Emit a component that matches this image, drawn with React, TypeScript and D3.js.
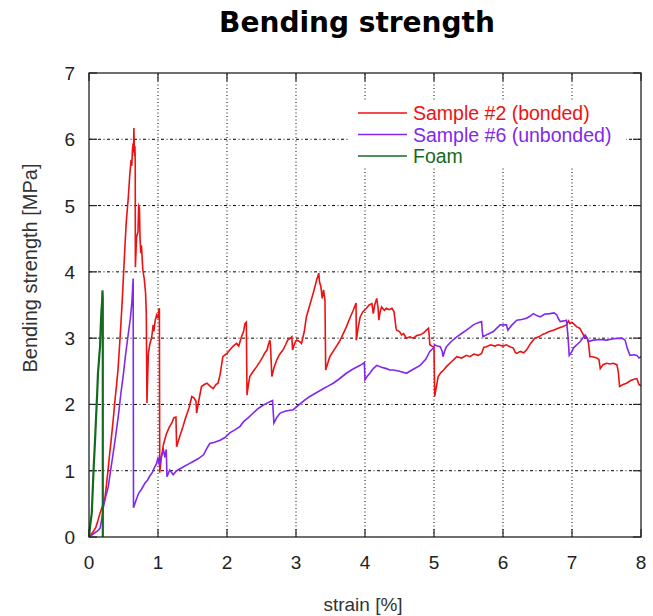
import React from 'react';
import * as d3 from 'd3';

// strain [%], bending strength [MPa]
const sample2: [number, number][] = [
  [0, 0], [0.03, 0.04], [0.06, 0.08], [0.1, 0.15], [0.13, 0.25], [0.16, 0.36], [0.19, 0.45], [0.21, 0.5],
  [0.23, 0.58], [0.26, 0.85], [0.28, 1.05], [0.3, 1.26], [0.32, 1.45], [0.35, 1.76], [0.38, 2.1], [0.4, 2.3],
  [0.42, 2.52], [0.45, 3.0], [0.48, 3.53], [0.5, 3.95], [0.52, 4.37], [0.54, 4.75], [0.57, 5.13], [0.59, 5.45],
  [0.61, 5.69], [0.62, 5.6], [0.63, 5.85], [0.64, 5.94], [0.645, 5.8], [0.65, 6.17], [0.66, 5.75], [0.665, 5.9],
  [0.67, 5.69], [0.672, 4.07], [0.69, 4.53], [0.71, 4.6], [0.72, 5.0], [0.73, 4.98], [0.74, 4.5], [0.75, 4.28],
  [0.76, 4.4], [0.78, 4.03], [0.8, 3.9], [0.82, 3.68], [0.83, 3.4], [0.84, 2.02], [0.85, 2.4], [0.86, 2.77],
  [0.88, 2.9], [0.91, 3.02], [0.93, 3.2], [0.94, 3.1], [0.96, 3.27], [0.98, 3.35], [1.0, 3.3], [1.01, 3.42],
  [1.02, 3.45], [1.025, 0.97], [1.05, 1.21], [1.08, 1.4], [1.12, 1.55], [1.16, 1.65], [1.2, 1.72], [1.23, 1.8],
  [1.26, 1.81], [1.27, 1.36], [1.31, 1.5], [1.36, 1.66], [1.4, 1.8], [1.45, 1.95], [1.49, 2.12], [1.52, 2.1],
  [1.55, 2.05], [1.56, 1.87], [1.59, 2.05], [1.63, 2.27], [1.67, 2.3], [1.71, 2.32], [1.75, 2.28], [1.8, 2.24],
  [1.84, 2.3], [1.87, 2.32], [1.9, 2.45], [1.94, 2.72], [2.0, 2.77], [2.04, 2.82], [2.09, 2.88], [2.14, 2.92],
  [2.17, 2.88], [2.21, 3.02], [2.24, 3.1], [2.26, 3.22], [2.28, 3.24], [2.29, 2.14], [2.31, 2.3], [2.33, 2.42],
  [2.38, 2.5], [2.43, 2.57], [2.48, 2.65], [2.52, 2.72], [2.55, 2.78], [2.58, 2.82], [2.6, 2.9], [2.62, 2.97],
  [2.63, 2.9], [2.65, 2.42], [2.68, 2.55], [2.72, 2.67], [2.76, 2.75], [2.81, 2.82], [2.85, 2.9], [2.88, 2.97],
  [2.92, 3.0], [2.94, 3.02], [2.95, 2.82], [2.98, 2.92], [3.01, 2.97], [3.05, 2.95], [3.08, 2.92], [3.12, 3.1],
  [3.15, 3.32], [3.2, 3.5], [3.25, 3.68], [3.28, 3.8], [3.3, 3.88], [3.33, 3.98], [3.34, 3.85], [3.36, 3.78],
  [3.38, 3.6], [3.4, 3.73], [3.42, 3.57], [3.43, 2.52], [3.46, 2.62], [3.49, 2.72], [3.55, 2.82], [3.6, 2.9],
  [3.64, 2.97], [3.69, 3.08], [3.73, 3.17], [3.78, 3.3], [3.83, 3.42], [3.87, 3.53], [3.875, 2.97], [3.9, 3.15],
  [3.93, 3.32], [3.97, 3.4], [4.02, 3.45], [4.06, 3.5], [4.1, 3.52], [4.12, 3.37], [4.14, 3.5], [4.17, 3.6],
  [4.19, 3.45], [4.2, 3.27], [4.22, 3.4], [4.24, 3.47], [4.28, 3.42], [4.31, 3.45], [4.35, 3.43], [4.39, 3.45],
  [4.42, 3.4], [4.43, 3.32], [4.45, 3.15], [4.46, 3.12], [4.5, 3.1], [4.53, 3.05], [4.56, 3.07], [4.6, 3.0],
  [4.65, 3.02], [4.7, 3.0], [4.75, 3.04], [4.8, 3.05], [4.85, 3.08], [4.89, 3.12], [4.92, 3.15], [4.93, 3.05],
  [4.94, 2.9], [4.97, 2.88], [4.99, 2.87], [5.0, 2.85], [5.01, 2.12], [5.04, 2.3], [5.06, 2.42], [5.1, 2.48],
  [5.14, 2.52], [5.18, 2.57], [5.25, 2.64], [5.33, 2.72], [5.4, 2.7], [5.47, 2.74], [5.52, 2.72], [5.58, 2.76],
  [5.64, 2.74], [5.69, 2.77], [5.72, 2.86], [5.76, 2.87], [5.82, 2.9], [5.88, 2.88], [5.93, 2.9], [6.0, 2.88],
  [6.05, 2.9], [6.1, 2.87], [6.15, 2.85], [6.18, 2.78], [6.2, 2.77], [6.25, 2.8], [6.3, 2.78], [6.34, 2.82],
  [6.4, 2.92], [6.46, 3.0], [6.52, 3.02], [6.58, 3.06], [6.61, 3.07], [6.67, 3.1], [6.73, 3.12], [6.8, 3.15],
  [6.86, 3.17], [6.92, 3.2], [6.95, 3.26], [6.97, 3.22], [7.0, 3.24], [7.04, 3.2], [7.07, 3.17], [7.11, 3.15],
  [7.15, 3.08], [7.19, 3.0], [7.22, 3.0], [7.24, 2.92], [7.26, 2.72], [7.3, 2.72], [7.36, 2.7], [7.39, 2.68],
  [7.41, 2.54], [7.45, 2.6], [7.5, 2.62], [7.55, 2.61], [7.6, 2.62], [7.65, 2.6], [7.67, 2.5], [7.69, 2.27],
  [7.74, 2.3], [7.79, 2.32], [7.85, 2.36], [7.9, 2.38], [7.94, 2.39], [7.97, 2.3], [8.0, 2.28],
];

const sample6: [number, number][] = [
  [0, 0], [0.04, 0.03], [0.08, 0.06], [0.12, 0.09], [0.16, 0.13], [0.19, 0.3], [0.21, 0.46], [0.24, 0.6],
  [0.28, 0.76], [0.31, 0.98], [0.35, 1.26], [0.39, 1.55], [0.43, 1.87], [0.46, 2.15], [0.5, 2.47], [0.53, 2.75],
  [0.57, 3.07], [0.6, 3.3], [0.62, 3.52], [0.63, 3.7], [0.64, 3.9], [0.645, 0.44], [0.68, 0.55], [0.72, 0.66],
  [0.76, 0.72], [0.81, 0.81], [0.85, 0.86], [0.88, 0.92], [0.91, 0.96], [0.95, 1.05], [0.98, 1.11], [1.0, 1.2],
  [1.02, 1.08], [1.05, 1.22], [1.08, 1.31], [1.1, 1.2], [1.12, 1.32], [1.13, 0.91], [1.17, 1.01], [1.2, 0.97],
  [1.22, 0.94], [1.27, 1.0], [1.32, 1.03], [1.37, 1.06], [1.44, 1.1], [1.51, 1.14], [1.58, 1.18], [1.66, 1.24],
  [1.71, 1.34], [1.75, 1.41], [1.82, 1.43], [1.9, 1.46], [1.97, 1.5], [2.04, 1.57], [2.12, 1.62], [2.19, 1.67],
  [2.24, 1.74], [2.31, 1.8], [2.38, 1.87], [2.44, 1.93], [2.51, 1.98], [2.58, 2.02], [2.66, 2.06], [2.68, 1.72],
  [2.72, 1.8], [2.77, 1.87], [2.85, 1.9], [2.96, 1.92], [3.05, 2.0], [3.13, 2.07], [3.2, 2.12], [3.3, 2.18],
  [3.4, 2.24], [3.47, 2.28], [3.54, 2.32], [3.62, 2.38], [3.73, 2.47], [3.82, 2.53], [3.93, 2.59], [3.99, 2.63],
  [4.0, 2.37], [4.03, 2.42], [4.07, 2.47], [4.12, 2.54], [4.17, 2.59], [4.24, 2.56], [4.31, 2.54], [4.36, 2.52],
  [4.41, 2.52], [4.5, 2.5], [4.6, 2.47], [4.7, 2.53], [4.8, 2.59], [4.88, 2.68], [4.94, 2.8], [4.99, 2.85],
  [5.01, 2.9], [5.05, 2.88], [5.09, 2.87], [5.12, 2.8], [5.13, 2.72], [5.16, 2.82], [5.18, 2.87], [5.25, 2.95],
  [5.33, 3.02], [5.4, 3.07], [5.47, 3.12], [5.52, 3.16], [5.57, 3.2], [5.63, 3.23], [5.69, 3.25], [5.7, 3.1],
  [5.71, 3.02], [5.78, 3.06], [5.86, 3.1], [5.91, 3.15], [5.96, 3.2], [6.05, 3.2], [6.07, 3.12], [6.13, 3.2],
  [6.2, 3.27], [6.27, 3.28], [6.34, 3.3], [6.39, 3.33], [6.44, 3.37], [6.49, 3.34], [6.54, 3.32], [6.6, 3.36],
  [6.68, 3.37], [6.74, 3.38], [6.78, 3.35], [6.8, 3.3], [6.83, 3.25], [6.88, 3.26], [6.92, 3.27], [6.94, 3.05],
  [6.96, 2.74], [7.0, 2.8], [7.02, 2.85], [7.07, 2.9], [7.12, 2.95], [7.19, 3.05], [7.22, 3.0], [7.24, 2.95],
  [7.31, 2.97], [7.4, 2.98], [7.5, 2.97], [7.6, 2.99], [7.7, 3.0], [7.74, 2.99], [7.77, 2.97], [7.8, 2.85],
  [7.84, 2.74], [7.9, 2.75], [7.94, 2.74], [7.97, 2.7], [8.0, 2.72],
];

const foam: [number, number][] = [
  [0, 0], [0.01, 0.1], [0.02, 0.2], [0.03, 0.28], [0.04, 0.36], [0.05, 0.6], [0.06, 0.86], [0.07, 1.1],
  [0.08, 1.3], [0.09, 1.51], [0.1, 1.75], [0.11, 1.97], [0.12, 2.2], [0.13, 2.47], [0.14, 2.6], [0.15, 2.75],
  [0.16, 2.87], [0.17, 3.17], [0.18, 3.4], [0.19, 3.55], [0.195, 3.72], [0.2, 3.6], [0.2, 0],
];

const xTicks = [0, 1, 2, 3, 4, 5, 6, 7, 8];
const yTicks = [0, 1, 2, 3, 4, 5, 6, 7];

const series = [
  { name: 'Sample #2 (bonded)', color: '#ee1111', width: 1.6, data: sample2 },
  { name: 'Sample #6 (unbonded)', color: '#8028ee', width: 1.6, data: sample6 },
  { name: 'Foam', color: '#146b1e', width: 2.2, data: foam },
];

const W = 653, H = 616;
const margin = { top: 73, right: 12, bottom: 79, left: 89 };

export default function App() {
  const x = d3.scaleLinear().domain([0, 8]).range([margin.left, W - margin.right]);
  const y = d3.scaleLinear().domain([0, 7]).range([H - margin.bottom, margin.top]);
  const line = d3.line<[number, number]>().x(d => x(d[0])).y(d => y(d[1]));
  const x0 = x(0), x1 = x(8), y0 = y(0), y1 = y(7);
  const font = 'Liberation Sans, Arial, sans-serif';
  const tick = 8;

  return (
    <svg width={W} height={H} style={{ position: 'absolute', left: 0, top: 0, background: '#fff' }}>
      <text x={357} y={32} textAnchor="middle" fontFamily="DejaVu Sans, Verdana, sans-serif"
        fontWeight="bold" fontSize={28} fill="#000">Bending strength</text>

      {/* grid */}
      {xTicks.slice(1, -1).map(t => (
        <line key={'gx' + t} x1={x(t)} x2={x(t)} y1={y0} y2={y1} stroke="#000" strokeWidth={1} strokeDasharray="1,2.5" />
      ))}
      {yTicks.slice(1, -1).map(t => (
        <line key={'gy' + t} x1={x0} x2={x1} y1={y(t)} y2={y(t)} stroke="#000" strokeWidth={1} strokeDasharray="3,2.5,1,2.5" />
      ))}

      {/* legend background */}
      <rect x={348} y={100} width={278} height={68} fill="#fff" />

      {/* ticks */}
      {xTicks.map(t => (
        <g key={'tx' + t}>
          <line x1={x(t)} x2={x(t)} y1={y0} y2={y0 - tick} stroke="#222" strokeWidth={1.2} />
          <line x1={x(t)} x2={x(t)} y1={y1} y2={y1 + tick} stroke="#222" strokeWidth={1.2} />
          <text x={x(t)} y={569} textAnchor="middle" fontFamily={font} fontSize={19} fill="#222">{t}</text>
        </g>
      ))}
      {yTicks.map(t => (
        <g key={'ty' + t}>
          <line x1={x0} x2={x0 + tick} y1={y(t)} y2={y(t)} stroke="#222" strokeWidth={1.2} />
          <line x1={x1} x2={x1 - tick} y1={y(t)} y2={y(t)} stroke="#222" strokeWidth={1.2} />
          <text x={75} y={y(t) + 7} textAnchor="end" fontFamily={font} fontSize={19} fill="#222">{t}</text>
        </g>
      ))}

      {/* series */}
      {series.map(s => (
        <path key={s.name} d={line(s.data) || ''} fill="none" stroke={s.color} strokeWidth={s.width} strokeLinejoin="miter" />
      ))}

      <rect x={x0} y={y1} width={x1 - x0} height={y0 - y1} fill="none" stroke="#222" strokeWidth={1.3} />

      {/* legend */}
      {series.map((s, i) => (
        <g key={'lg' + i} transform={`translate(0, ${113 + i * 21.5})`}>
          <line x1={358} x2={407} y1={0} y2={0} stroke={s.color} strokeWidth={1.3} />
          <text x={413} y={7} fontFamily={font} fontSize={19.5} fill={s.color}>{s.name}</text>
        </g>
      ))}

      <text transform={`translate(37, 268) rotate(-90)`} textAnchor="middle" fontFamily={font} fontSize={20} fill="#333">
        Bending strength [MPa]
      </text>
      <text x={363} y={611} textAnchor="middle" fontFamily={font} fontSize={19} fill="#333">strain [%]</text>
    </svg>
  );
}
